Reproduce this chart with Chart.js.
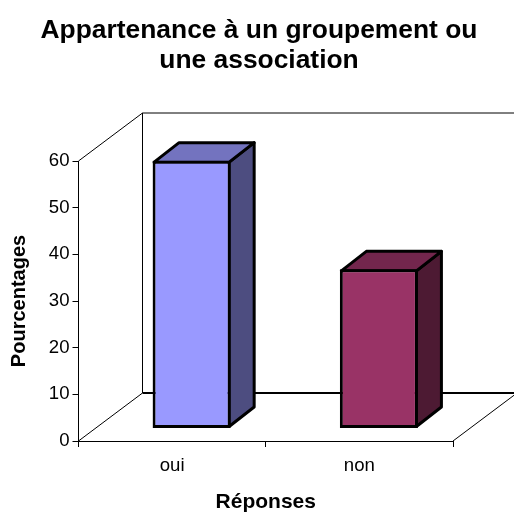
<!DOCTYPE html>
<html lang="fr">
<head>
    <meta charset="UTF-8">
    <title>Appartenance à un groupement ou une association</title>
    <style>
        html, body { margin: 0; padding: 0; background: #fff; }
        #wrap { width: 514px; height: 513px; }
    </style>
</head>
<body>
    <div id="wrap"><canvas id="myChart" width="514" height="513"></canvas></div>
    <script src="https://cdn.jsdelivr.net/npm/chart.js"></script>
    <script>
        const titleLines = ['Appartenance à un groupement ou', 'une association'];
        const xAxisTitle = 'Réponses';
        const yAxisTitle = 'Pourcentages';
        const categories = ['oui', 'non'];
        const percentages = [57.4, 34.1];
        const frontColors = ['#9999FF', '#993366'];
        const topColors = ['#7373BF', '#73264D'];
        const sideColors = ['#4D4D80', '#4D1A33'];

        const FONT = '"Liberation Sans", Arial, sans-serif';

        // fake 3D: how far the walls and the bars recede
        const wallDepth = { x: 64, y: -48 };
        const barOffset = { x: 19.5, y: -12.5 };
        const barDepth = { x: 25, y: -19.5 };

        function poly(ctx, pts, fill, stroke, width) {
            ctx.beginPath();
            pts.forEach((p, i) => i ? ctx.lineTo(p[0], p[1]) : ctx.moveTo(p[0], p[1]));
            if (fill) {
                ctx.closePath();
                ctx.fillStyle = fill;
                ctx.fill();
            }
            ctx.strokeStyle = stroke;
            ctx.lineWidth = width;
            ctx.lineJoin = 'round';
            ctx.stroke();
        }

        const box3dPlugin = {
            id: 'box3d',
            beforeDatasetsDraw: (chart) => {
                const ctx = chart.ctx;
                const a = chart.chartArea;
                const dx = wallDepth.x, dy = wallDepth.y;
                ctx.save();

                // walls and floor
                poly(ctx, [[a.left, a.top], [a.left + dx, a.top + dy], [a.right + dx, a.top + dy]], null, '#000', 1);
                poly(ctx, [[a.left + dx, a.top + dy], [a.left + dx, a.bottom + dy]], null, '#000', 1);
                poly(ctx, [[a.left, a.bottom], [a.left + dx, a.bottom + dy]], null, '#000', 1);
                poly(ctx, [[a.right, a.bottom], [a.right + dx, a.bottom + dy]], null, '#000', 1);
                poly(ctx, [[a.left + dx, a.bottom + dy], [a.right + dx, a.bottom + dy]], null, '#000', 2);

                // side and top faces of the bars
                chart.getDatasetMeta(0).data.forEach((bar, i) => {
                    const half = bar.width / 2 - 1.5;
                    const l = bar.x + barOffset.x - half;
                    const r = bar.x + barOffset.x + half;
                    const t = bar.y + barOffset.y + 1.5;
                    const b = bar.base + barOffset.y - 1.5;
                    poly(ctx, [[r, t], [r + barDepth.x, t + barDepth.y], [r + barDepth.x, b + barDepth.y], [r, b]], sideColors[i], '#000', 3);
                    poly(ctx, [[l, t], [l + barDepth.x, t + barDepth.y], [r + barDepth.x, t + barDepth.y], [r, t]], topColors[i], '#000', 3);
                });

                ctx.restore();
                ctx.save();
                ctx.translate(barOffset.x, barOffset.y);
            },
            afterDatasetsDraw: (chart) => {
                chart.ctx.restore();
            },
            afterDraw: (chart) => {
                // title is centred on the whole picture, the plot area isn't
                const ctx = chart.ctx;
                ctx.save();
                ctx.font = 'bold 26.4px ' + FONT;
                ctx.fillStyle = '#000';
                ctx.textAlign = 'center';
                ctx.textBaseline = 'alphabetic';
                ctx.fillText(titleLines[0], 259, 38);
                ctx.fillText(titleLines[1], 259, 68);
                ctx.restore();
            }
        };

        new Chart(document.getElementById('myChart'), {
            type: 'bar',
            data: {
                labels: categories,
                datasets: [{
                    data: percentages,
                    backgroundColor: frontColors,
                    borderColor: '#000',
                    borderWidth: 3,
                    borderSkipped: false,
                    categoryPercentage: 1,
                    barPercentage: 0.417,
                    clip: false
                }]
            },
            options: {
                responsive: false,
                animation: false,
                layout: { padding: { top: 161, right: 61, bottom: 0, left: 0 } },
                plugins: {
                    legend: { display: false },
                    tooltip: { enabled: false }
                },
                scales: {
                    x: {
                        afterFit: (s) => { s.height = 72; },
                        grid: { drawOnChartArea: false, color: '#000', tickLength: 6 },
                        border: { color: '#000', width: 1 },
                        ticks: { color: '#000', font: { family: FONT, size: 18.6 }, padding: 8, maxRotation: 0 },
                        title: {
                            display: true,
                            text: xAxisTitle,
                            color: '#000',
                            font: { family: FONT, size: 21, weight: 'bold', lineHeight: 1 },
                            padding: { top: 0, bottom: 0 }
                        }
                    },
                    y: {
                        min: 0,
                        max: 60,
                        afterFit: (s) => { s.width = 78.5; },
                        grid: { drawOnChartArea: false, color: '#000', tickLength: 6 },
                        border: { color: '#000', width: 1 },
                        ticks: { stepSize: 10, color: '#000', font: { family: FONT, size: 18.6 }, padding: 3 },
                        title: {
                            display: true,
                            text: yAxisTitle,
                            color: '#000',
                            font: { family: FONT, size: 20, weight: 'bold' },
                            padding: { top: 7, bottom: 0 }
                        }
                    }
                }
            },
            plugins: [box3dPlugin]
        });
    </script>
</body>
</html>
